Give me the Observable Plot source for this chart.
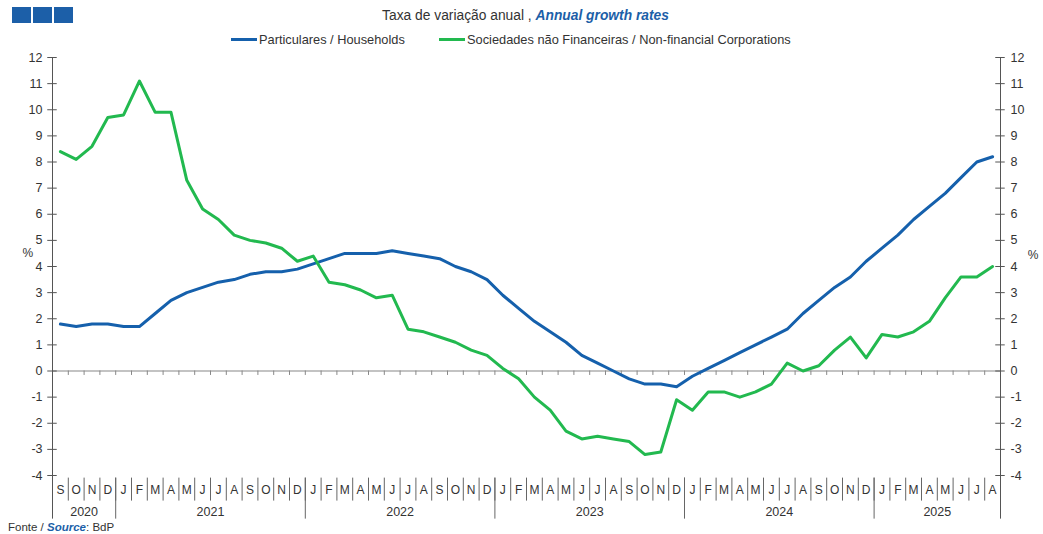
<!DOCTYPE html>
<html>
<head>
<meta charset="utf-8">
<script src="https://cdn.jsdelivr.net/npm/d3@7"></script>
<script src="https://cdn.jsdelivr.net/npm/@observablehq/plot@0.6"></script>
<style>
  html, body { margin: 0; padding: 0; background: #fff; }
  body { font-family: "Liberation Sans", Arial, sans-serif; color: #333; }
  #wrap { position: relative; width: 1043px; height: 534px; overflow: hidden; }
  #logo { position: absolute; left: 12px; top: 7px; display: flex; gap: 2px; }
  #logo span { display: block; width: 19px; height: 16px; background: #1c5fa8; }
  #title { position: absolute; left: 0; top: 8px; width: 1043px; text-align: center; font-size: 13.8px; padding-left: 4px; }
  #title b { color: #1c5fa8; font-style: italic; }
  #legend { position: absolute; top: 32px; left: 0; width: 1043px; font-size: 12.8px; }
  .lg { position: absolute; display: flex; align-items: center; white-space: nowrap; }
  .lg i { display: inline-block; width: 26px; height: 3px; margin-right: 2px; }
  #chart { position: absolute; left: 0; top: 50px; }
  #footer { position: absolute; left: 8px; top: 520px; font-size: 11.5px; line-height: 14px; }
  #footer b { color: #1c5fa8; font-style: italic; }
</style>
</head>
<body>
<div id="wrap">
  <div id="logo"><span></span><span></span><span></span></div>
  <div id="title">Taxa de variação anual , <b>Annual growth rates</b></div>
  <div id="legend">
    <div class="lg" style="left:231px"><i style="background:#1560ac"></i>Particulares / Households</div>
    <div class="lg" style="left:439px"><i style="background:#22b94f"></i>Sociedades não Financeiras / Non-financial Corporations</div>
  </div>
  <div id="chart"></div>
  <div id="footer">Fonte / <b>Source</b>: BdP</div>
</div>
<script>
// ---- data ----
const monthLabels = [
  "S","O","N","D",
  "J","F","M","A","M","J","J","A","S","O","N","D",
  "J","F","M","A","M","J","J","A","S","O","N","D",
  "J","F","M","A","M","J","J","A","S","O","N","D",
  "J","F","M","A","M","J","J","A","S","O","N","D",
  "J","F","M","A","M","J","J","A"
];
const yearLabels = ["2020","2021","2022","2023","2024","2025"];
const monthsPerYear = [4, 12, 12, 12, 12, 8];
const households = [
  1.8, 1.7, 1.8, 1.8,
  1.7, 1.7, 2.2, 2.7, 3.0, 3.2, 3.4, 3.5, 3.7, 3.8, 3.8, 3.9,
  4.1, 4.3, 4.5, 4.5, 4.5, 4.6, 4.5, 4.4, 4.3, 4.0, 3.8, 3.5,
  2.9, 2.4, 1.9, 1.5, 1.1, 0.6, 0.3, 0.0, -0.3, -0.5, -0.5, -0.6,
  -0.2, 0.1, 0.4, 0.7, 1.0, 1.3, 1.6, 2.2, 2.7, 3.2, 3.6, 4.2,
  4.7, 5.2, 5.8, 6.3, 6.8, 7.4, 8.0, 8.2
];
const corporations = [
  8.4, 8.1, 8.6, 9.7,
  9.8, 11.1, 9.9, 9.9, 7.3, 6.2, 5.8, 5.2, 5.0, 4.9, 4.7, 4.2,
  4.4, 3.4, 3.3, 3.1, 2.8, 2.9, 1.6, 1.5, 1.3, 1.1, 0.8, 0.6,
  0.1, -0.3, -1.0, -1.5, -2.3, -2.6, -2.5, -2.6, -2.7, -3.2, -3.1, -1.1,
  -1.5, -0.8, -0.8, -1.0, -0.8, -0.5, 0.3, 0.0, 0.2, 0.8, 1.3, 0.5,
  1.4, 1.3, 1.5, 1.9, 2.8, 3.6, 3.6, 4.0
];
const yTicks = [-4,-3,-2,-1,0,1,2,3,4,5,6,7,8,9,10,11,12];

// ---- derived tables ----
const n = monthLabels.length;
const idx = d3.range(n);
const series = [
  ...idx.map(i => ({i, v: households[i], s: "Particulares / Households"})),
  ...idx.map(i => ({i, v: corporations[i], s: "Sociedades não Financeiras / Non-financial Corporations"}))
];
const monthBoundaries = idx.slice(0, n - 1).map(i => i + 0.5);
let acc = 0;
const years = yearLabels.map((y, k) => {
  const start = acc; acc += monthsPerYear[k];
  return {label: y, center: start + (monthsPerYear[k] - 1) / 2, end: acc - 0.5};
});
const yearBoundaries = years.slice(0, -1).map(d => d.end);

const xLo = -0.5, xHi = n - 0.5;
const yBottom = -5.67, tk = 0.3;
const axisColor = "#555", textColor = "#333";

const chart = Plot.plot({
  width: 1043,
  height: 470,
  marginLeft: 52,
  marginRight: 43,
  marginTop: 7,
  marginBottom: 45,
  style: {fontFamily: "'Liberation Sans', Arial, sans-serif", color: textColor, background: "transparent"},
  x: {type: "linear", domain: [xLo, xHi], axis: null},
  y: {domain: [-4, 12], axis: null},
  color: {domain: ["Particulares / Households", "Sociedades não Financeiras / Non-financial Corporations"], range: ["#1560ac", "#22b94f"]},
  marks: [
    // zero line and its ticks
    Plot.ruleY([0], {x1: xLo, x2: xHi, stroke: "#888", strokeWidth: 1.2}),
    Plot.ruleX(monthBoundaries, {y1: 0, y2: -0.17, stroke: "#888"}),
    // month separators below plot
    Plot.ruleX(monthBoundaries, {y1: -4.1, y2: -4.98, stroke: "#666"}),
    Plot.ruleX(yearBoundaries, {y1: -4.1, y2: yBottom, stroke: "#666"}),
    // axis lines
    Plot.ruleX([xLo, xHi], {y1: yBottom, y2: 12, stroke: axisColor}),
    // y ticks (cross)
    Plot.ruleY(yTicks, {x1: xLo - tk, x2: xLo + tk, stroke: axisColor}),
    Plot.ruleY(yTicks, {x1: xHi - tk, x2: xHi + tk, stroke: axisColor}),
    // y labels
    Plot.text(yTicks, {frameAnchor: "left", y: d => d, text: d => String(d), textAnchor: "end", dx: -10, fontSize: 12.5, fill: textColor}),
    Plot.text(yTicks, {frameAnchor: "right", y: d => d, text: d => String(d), textAnchor: "start", dx: 10, fontSize: 12.5, fill: textColor}),
    Plot.text(["%"], {frameAnchor: "left", y: 4.5, text: d => d, dx: -30, fontSize: 12, fill: textColor}),
    Plot.text(["%"], {frameAnchor: "right", y: 4.45, text: d => d, dx: 38, fontSize: 12, fill: textColor}),
    // month and year labels
    Plot.text(idx, {x: i => i, y: -4.57, text: i => monthLabels[i], fontSize: 12, fill: textColor}),
    Plot.text(years, {x: "center", y: -5.38, text: "label", fontSize: 12.5, fill: textColor}),
    // data lines
    Plot.line(series, {x: "i", y: "v", z: "s", stroke: "s", strokeWidth: 3, strokeLinejoin: "round"})
  ]
});
document.getElementById("chart").appendChild(chart);
</script>
</body>
</html>
